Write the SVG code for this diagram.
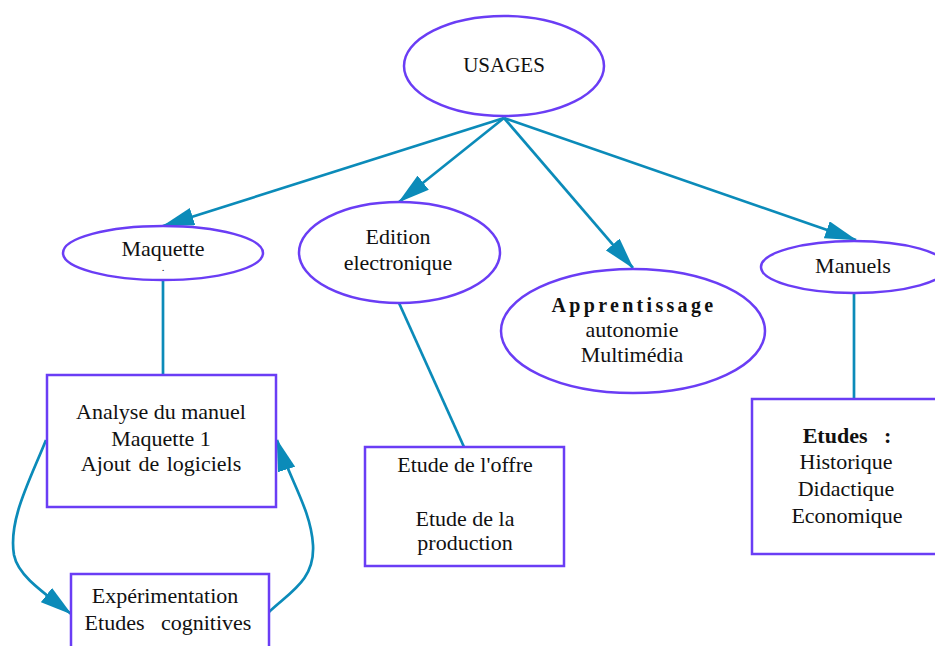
<svg xmlns="http://www.w3.org/2000/svg" width="935" height="646" viewBox="0 0 935 646">
<style>
.n{fill:#ffffff;stroke:#6a3df5;stroke-width:2.5}
.c{fill:none;stroke:#0b8bb9;stroke-width:2.7}
text{font-family:"Liberation Serif","Times New Roman",serif;font-size:22px;fill:#111;text-anchor:middle}
.b{font-weight:bold}
.pre{white-space:pre}
</style>
<defs>
<marker id="ah" markerWidth="32" markerHeight="18" refX="31" refY="9" orient="auto" markerUnits="userSpaceOnUse">
<path d="M0,0 L32,9 L0,18 z" fill="#0b8bb9"/>
</marker>
</defs>
<rect width="935" height="646" fill="#ffffff"/>
<g id="connectors">
<path class="c" d="M504,118 L163,226" marker-end="url(#ah)"/>
<path class="c" d="M504,118 L399,202" marker-end="url(#ah)"/>
<path class="c" d="M504,118 L633,268" marker-end="url(#ah)"/>
<path class="c" d="M504,118 L856,240" marker-end="url(#ah)"/>
<path class="c" d="M163,280 L163,375"/>
<path class="c" d="M399,303 L464,447"/>
<path class="c" d="M854,293 L854,399"/>
<path class="c" d="M46,440 C30,480 8,520 14,555 C18,575 40,590 71,614" marker-end="url(#ah)"/>
<path class="c" d="M269,612 C290,592 315,580 313,545 C311,510 290,480 277,440" marker-end="url(#ah)"/>
</g>
<g id="usages">
<ellipse class="n" cx="504" cy="66" rx="100" ry="50"/>
<text x="504" y="72" style="font-size:21px">USAGES</text>
</g>
<g id="maquette">
<ellipse class="n" cx="163" cy="253" rx="100" ry="27"/>
<text x="163" y="256">Maquette</text>
<text x="163" y="271" style="font-size:11px">.</text>
</g>
<g id="edition">
<ellipse class="n" cx="399.5" cy="252.5" rx="100.5" ry="50.5"/>
<text x="398" y="244">Edition</text>
<text x="398" y="270">electronique</text>
</g>
<g id="apprentissage">
<ellipse class="n" cx="633" cy="331" rx="132" ry="62"/>
<text x="634" y="312" class="b" style="font-size:20px;letter-spacing:3.3px">Apprentissage</text>
<text x="632" y="337">autonomie</text>
<text x="632" y="362">Multimédia</text>
</g>
<g id="manuels">
<ellipse class="n" cx="854" cy="267" rx="93" ry="26"/>
<text x="853" y="273">Manuels</text>
</g>
<g id="analyse">
<rect class="n" x="47" y="375" width="229" height="132"/>
<text x="161" y="419">Analyse du manuel</text>
<text x="161" y="446">Maquette 1</text>
<text x="161" y="471" style="word-spacing:2px">Ajout de logiciels</text>
</g>
<g id="offre">
<rect class="n" x="365" y="447" width="199" height="119"/>
<text x="465" y="472">Etude de l'offre</text>
<text x="465" y="526">Etude de la</text>
<text x="465" y="550">production</text>
</g>
<g id="etudes">
<rect class="n" x="752" y="399" width="200" height="155"/>
<text x="847" y="443" class="b pre">Etudes   :</text>
<text x="846" y="469">Historique</text>
<text x="846" y="496">Didactique</text>
<text x="847" y="523">Economique</text>
</g>
<g id="experimentation">
<rect class="n" x="71" y="574" width="198" height="85"/>
<text x="165" y="603">Expérimentation</text>
<text x="168" y="630" class="pre">Etudes   cognitives</text>
</g>
</svg>
